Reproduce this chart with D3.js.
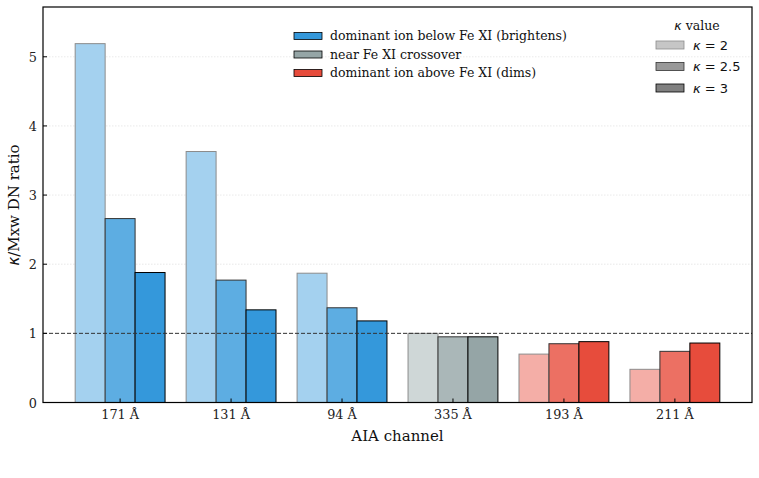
<!DOCTYPE html>
<html><head><meta charset="utf-8">
<script src="https://cdn.jsdelivr.net/npm/d3@7"></script>
<style>body{margin:0;background:#fff;} svg{display:block;}</style>
</head><body>
<svg id="chart" width="759" height="478"></svg>
<script>
const channels = ["171 Å","131 Å","94 Å","335 Å","193 Å","211 Å"];
const groupOf = ["below","below","below","near","above","above"];
const kappa2  = [5.19, 3.63, 1.87, 1.00, 0.70, 0.48];
const kappa25 = [2.66, 1.77, 1.37, 0.95, 0.85, 0.74];
const kappa3  = [1.88, 1.34, 1.18, 0.95, 0.88, 0.86];
const kappaLabels = ["2","2.5","3"];
const yTicks = [0,1,2,3,4,5];
const groupLegend = [
  {key:"below", label:"dominant ion below Fe XI (brightens)"},
  {key:"near",  label:"near Fe XI crossover"},
  {key:"above", label:"dominant ion above Fe XI (dims)"}
];

const baseColor = {below:"#3498db", near:"#95a5a6", above:"#e74c3c"};
const alphas = [0.45, 0.8, 1.0];
const series = [kappa2, kappa25, kappa3];

const svg = d3.select("#chart");
const L = 43, R = 752, T = 7, B = 402.5;
const serif = "'DejaVu Serif', serif";
const sans = "'DejaVu Sans', sans-serif";

const x = d3.scaleLinear().domain([-0.695, 5.695]).range([L, R]);
const y = d3.scaleLinear().domain([0, 5.72]).range([B, T]);
const bw = 0.27;

// grid
svg.append("g").selectAll("line").data(yTicks).join("line")
  .attr("x1", L).attr("x2", R).attr("y1", d=>y(d)).attr("y2", d=>y(d))
  .attr("stroke", "#e3e3e3").attr("stroke-width", 0.8).attr("stroke-dasharray", "1.5,1.5");

// bars
const mix = (c, a) => d3.interpolateRgb("#ffffff", c)(a);
const barData = [];
series.forEach((vals, k) => vals.forEach((v, i) => barData.push({i, k, v})));
svg.append("g").selectAll("rect").data(barData).join("rect")
  .attr("x", d => x(d.i + (d.k - 1) * bw - bw / 2))
  .attr("width", d => x(bw) - x(0))
  .attr("y", d => y(d.v))
  .attr("height", d => y(0) - y(d.v))
  .attr("fill", d => mix(baseColor[groupOf[d.i]], alphas[d.k]))
  .attr("stroke", d => mix("#000000", alphas[d.k]))
  .attr("stroke-width", 1);

// reference line at 1
svg.append("line").attr("x1", L).attr("x2", R).attr("y1", y(1)).attr("y2", y(1))
  .attr("stroke", "#333").attr("stroke-width", 1).attr("stroke-dasharray", "4,2");

// axes frame
svg.append("rect").attr("x", L).attr("y", T).attr("width", R - L).attr("height", B - T)
  .attr("fill", "none").attr("stroke", "#000").attr("stroke-width", 1.2);

// x ticks (inward)
const xg = svg.append("g");
channels.forEach((c, i) => {
  xg.append("line").attr("x1", x(i)).attr("x2", x(i)).attr("y1", B).attr("y2", B - 4)
    .attr("stroke", "#000").attr("stroke-width", 1);
  xg.append("text").attr("x", x(i)).attr("y", 419).attr("text-anchor", "middle")
    .attr("font-family", serif).attr("font-size", 12.8).attr("fill", "#222").text(c);
});
// y ticks (inward)
const yg = svg.append("g");
yTicks.forEach(t => {
  yg.append("line").attr("x1", L).attr("x2", L + 4).attr("y1", y(t)).attr("y2", y(t))
    .attr("stroke", "#000").attr("stroke-width", 1);
  yg.append("text").attr("x", 37).attr("y", y(t) + 5).attr("text-anchor", "end")
    .attr("font-family", serif).attr("font-size", 12.8).attr("fill", "#222").text(t);
});

// axis labels
svg.append("text").attr("x", (L + R) / 2).attr("y", 441).attr("text-anchor", "middle")
  .attr("font-family", serif).attr("font-size", 15).attr("fill", "#111").text("AIA channel");
const yl = svg.append("text").attr("transform", "translate(19,205) rotate(-90)")
  .attr("text-anchor", "middle").attr("font-family", serif).attr("font-size", 15).attr("fill", "#111");
yl.append("tspan").attr("font-family", sans).attr("font-style", "italic").text("κ");
yl.append("tspan").text("/Mxw DN ratio");

// group legend
const lg = svg.append("g");
groupLegend.forEach((g, j) => {
  const cy = 36 + j * 18.5;
  lg.append("rect").attr("x", 294).attr("y", cy - 3.5).attr("width", 28).attr("height", 7)
    .attr("fill", baseColor[g.key]).attr("stroke", "#000").attr("stroke-width", 0.8);
  lg.append("text").attr("x", 330).attr("y", cy + 4).attr("font-family", serif)
    .attr("font-size", 12.5).attr("fill", "#111").text(g.label);
});

// kappa legend
const kg = svg.append("g");
const kt = kg.append("text").attr("x", 697).attr("y", 30).attr("text-anchor", "middle")
  .attr("font-family", serif).attr("font-size", 12.5).attr("fill", "#111");
kt.append("tspan").attr("font-family", sans).attr("font-style", "italic").text("κ");
kt.append("tspan").text(" value");
kappaLabels.forEach((lab, k) => {
  const cy = 45 + k * 21.5;
  kg.append("rect").attr("x", 656).attr("y", cy - 4).attr("width", 28).attr("height", 8)
    .attr("fill", mix("#808080", alphas[k])).attr("stroke", mix("#000000", alphas[k])).attr("stroke-width", 0.8);
  const t = kg.append("text").attr("x", 693).attr("y", cy + 4.5).attr("font-family", sans)
    .attr("font-size", 13).attr("fill", "#111");
  t.append("tspan").attr("font-style", "italic").text("κ");
  t.append("tspan").text(" = " + lab);
});
</script>
</body></html>
